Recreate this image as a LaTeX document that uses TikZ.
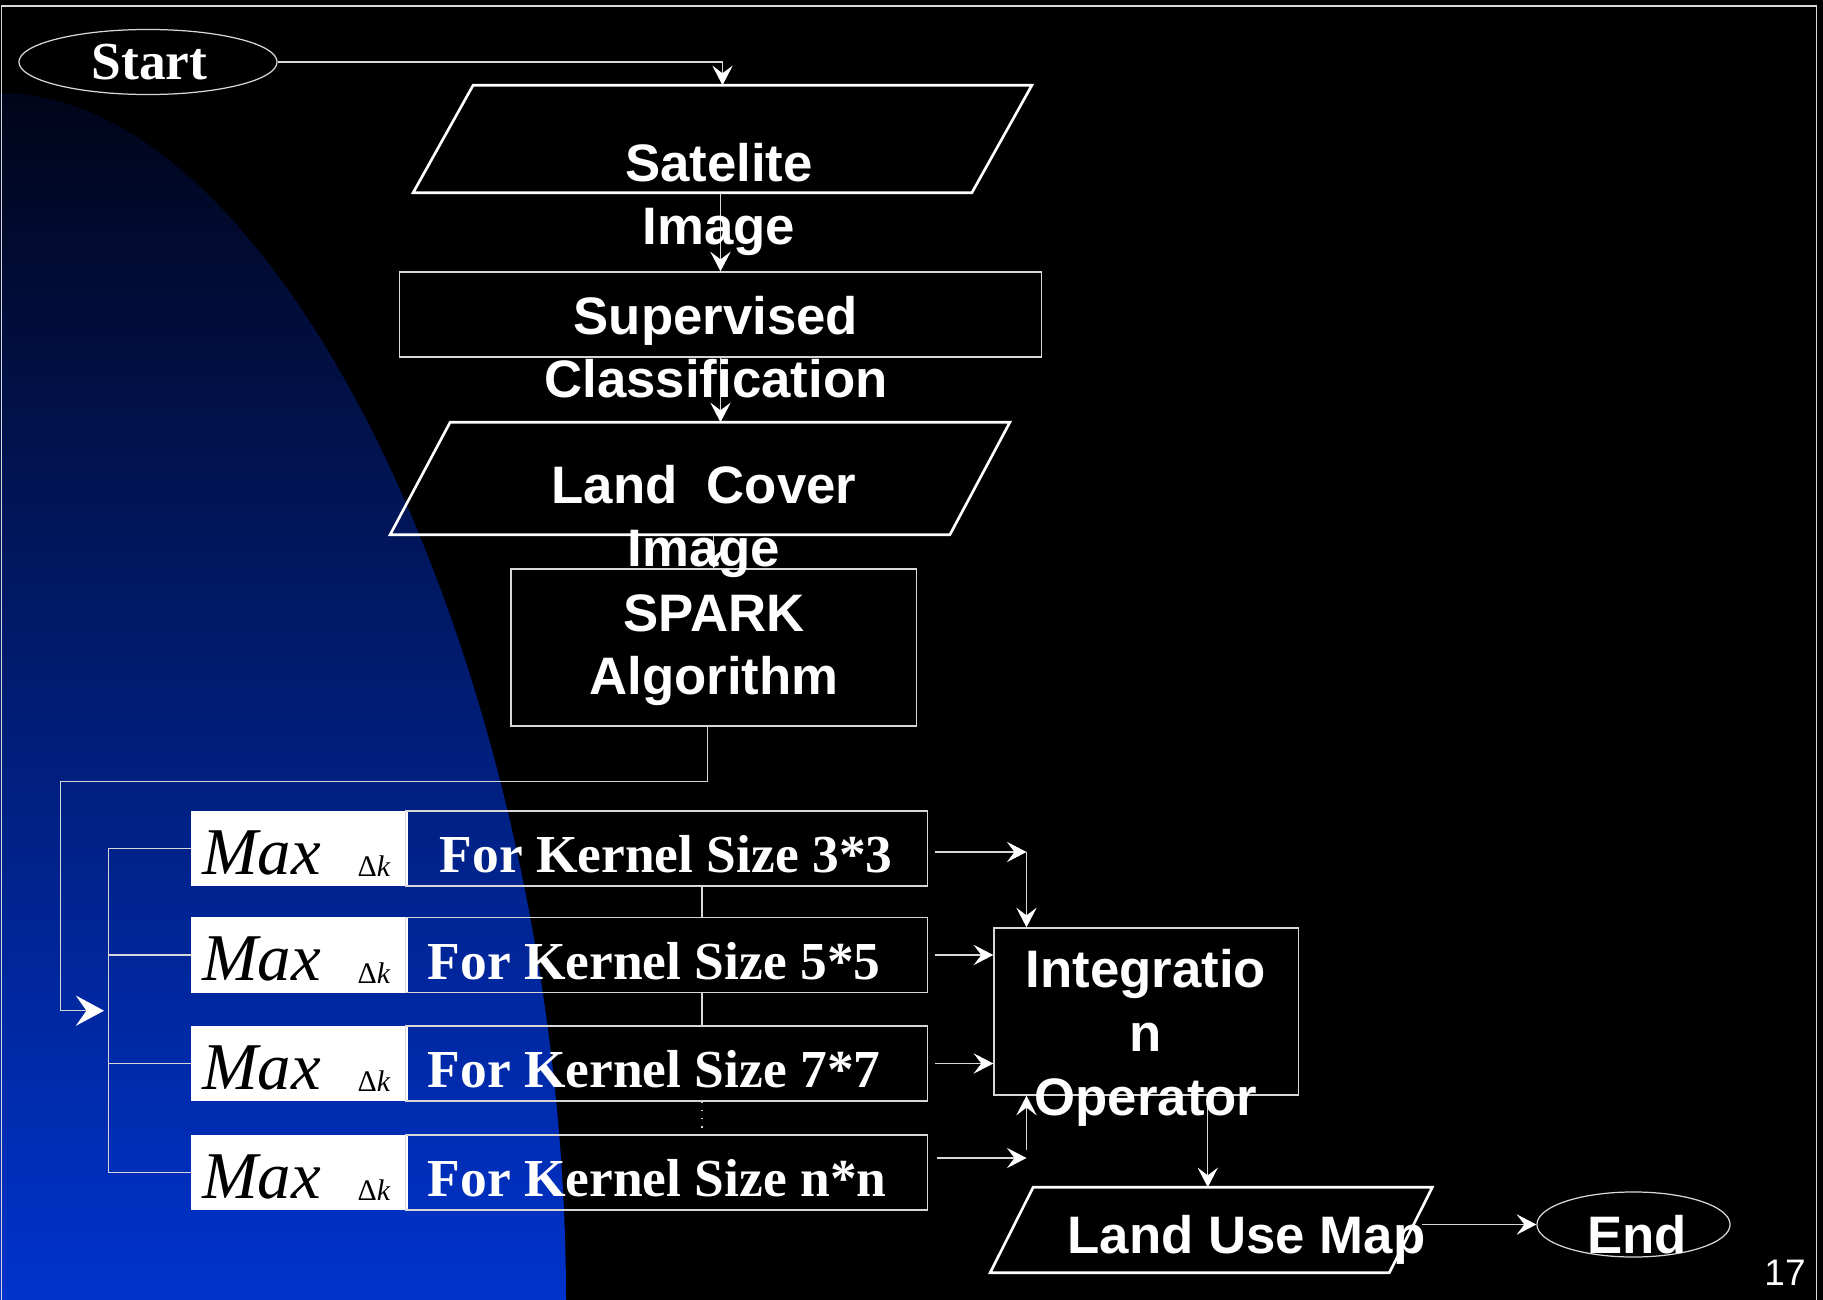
\documentclass[tikz,border=0pt]{standalone}
\usepackage{fontspec}
\setmainfont{Liberation Serif}
\setsansfont{Liberation Sans}
\usetikzlibrary{arrows.meta, calc, shapes.geometric}

\definecolor{navytop}{RGB}{1,5,26}
\definecolor{navymid}{RGB}{0,34,142}
\definecolor{navybot}{RGB}{0,51,204}
\definecolor{edgegray}{RGB}{215,215,215}

\begin{document}
\begin{tikzpicture}[x=0.01cm, y=-0.01cm,
        line/.style={draw=edgegray, line width=0.35pt},
        conn/.style={line, -{Stealth[length=5.6pt, width=5.8pt, inset=2.2pt, color=white]}},
        bigconn/.style={line, -{Stealth[length=8pt, width=8.6pt, inset=3pt, color=white]}},
        box/.style={line, inner sep=0pt},
        hold/.style={inner sep=0pt},
        para/.style={draw=white, line width=0.75pt},
        oval/.style={line, ellipse, inner sep=0pt},
        lbl/.style={text=white, font=\sffamily\bfseries\fontsize{15}{18.1}\selectfont, align=center, inner sep=0pt, anchor=base},
        kern/.style={text=white, font=\bfseries\fontsize{15.2}{18}\selectfont, inner sep=0pt, anchor=base west},
        maxbox/.style={fill=white, inner sep=0pt, minimum width=2.16cm, minimum height=0.75cm},
        kbox/.style={box, minimum width=5.21cm, minimum height=0.75cm}]
    % Background
    \useasboundingbox (0,0) rectangle (1823,1300);
    \fill[black] (0,0) rectangle (1823,1300);
    \shade[top color=navytop, middle color=navymid, bottom color=navybot]
        (0,93) .. controls (290,93) and (566,700) .. (566,1300) -- (0,1300) -- cycle;
    \draw[line] (1.5,1300) -- (1.5,6) -- (1816.5,6) -- (1816.5,1300);

    % Terminals
    \node[oval, minimum width=2.58cm, minimum height=0.65cm] (start) at (148,62) {};
    \node[text=white, font=\bfseries\fontsize{15.2}{18}\selectfont, inner sep=0pt, anchor=base] (starttxt) at (149.5,80) {Start};
    \node[oval, minimum width=1.93cm, minimum height=0.65cm] (finish) at (1633.5,1224.5) {};
    \node[lbl] (finishtxt) at (1637,1253) {End};

    % Inputs and outputs
    \node[hold, minimum width=6.17cm, minimum height=1.06cm] (sat) at (722.5,139) {};
    \draw[para] ($(sat.north west)+(60,0)$) -- (sat.north east) -- ($(sat.south east)-(60,0)$) -- (sat.south west) -- cycle;
    \node[hold, minimum width=6.18cm, minimum height=1.11cm] (cover) at (700,478.5) {};
    \draw[para] ($(cover.north west)+(60,0)$) -- (cover.north east) -- ($(cover.south east)-(60,0)$) -- (cover.south west) -- cycle;
    \node[hold, minimum width=4.405cm, minimum height=0.84cm] (landuse) at (1211.25,1230) {};
    \draw[para] ($(landuse.north west)+(43,0)$) -- (landuse.north east) -- ($(landuse.south east)-(43,0)$) -- (landuse.south west) -- cycle;

    % Processes
    \node[box, minimum width=6.41cm, minimum height=0.85cm] (superv) at (720.5,314.5) {};
    \node[box, minimum width=4.055cm, minimum height=1.57cm] (spark) at (713.75,647.5) {};
    \node[box, minimum width=3.045cm, minimum height=1.67cm] (integ) at (1146.25,1011.5) {};

    % Kernel rows
    \foreach \i/\y/\k/\kx in {1/848.5/3*3/439, 2/955/5*5/427, 3/1063.5/7*7/427, 4/1172.5/n*n/427} {
        \node[maxbox] (max\i) at (299.5,\y) {};
        \node[kbox] (ker\i) at (666.5,\y) {};
        \node[inner sep=0pt, anchor=base west, font=\itshape\fontsize{19}{19}\selectfont] (maxtxt\i) at (201.5,\y+25.8) {Max};
        \node[inner sep=0pt, anchor=base west, font=\fontsize{8.5}{9}\selectfont] (dk\i) at (357,\y+28.2) {Δ\textit{k}};
        \node[kern] (kertxt\i) at (\kx,\y+24.2) {For Kernel Size \k};
    }

    % Arrows
    \draw[conn] (start.east) -- (start.east -| sat.north) -- (sat.north);
    \draw[conn] (sat.south -| superv.north) -- (superv.north);
    \draw[conn] (superv.south) -- (superv.south |- cover.north);
    \draw[conn] (cover.south -| spark.north) -- (spark.north);
    \coordinate (busin) at (104,1010.7);
    \draw[bigconn] ([xshift=-0.06cm]spark.south) -- ++(0,55) -| (60.6,1010.7) -- (busin);
    \draw[line] (108.4,848.5) -- (108.4,1172.5);
    \foreach \i in {1,...,4}
        \draw[line] (108.4,0 |- max\i.west) -- (max\i.west);
    \draw[line] (ker1.south -| 702,0) -- (ker2.north -| 702,0);
    \draw[line] (ker2.south -| 702,0) -- (ker3.north -| 702,0);
    \draw[line, dotted] (ker3.south -| 702,0) -- (ker4.north -| 702,0);
    \coordinate (j1) at (1026.5,852);
    \coordinate (j4) at (1026.5,1158);
    \draw[conn] ([xshift=0.07cm]ker1.east |- j1) -- (j1);
    \draw[conn] (j1) -- (j1 |- integ.north);
    \draw[conn] ([xshift=0.07cm]ker2.east) -- (ker2.east -| integ.west);
    \draw[conn] ([xshift=0.07cm]ker3.east) -- (ker3.east -| integ.west);
    \draw[conn] ([xshift=0.09cm]ker4.east |- j4) -- (j4);
    \draw[conn] ([yshift=0.08cm]j4) -- (j4 |- integ.south);
    \draw[conn] ([xshift=0.615cm]integ.south) -- ([xshift=0.615cm]integ.south |- landuse.north);
    \draw[conn] ([xshift=-0.1cm]landuse.east |- finish.west) -- (finish.west);

    % Labels
    \node[lbl] (sattxt) at (719,245) {Satelite\\Image};
    \node[lbl] (supervtxt) at (716,398) {Supervised\\Classification};
    \node[lbl] (covertxt) at (704,566.7) {Land\ \ Cover\\Image};
    \node[lbl] (sparktxt) at (714,695) {SPARK\\Algorithm};
    \node[lbl] (integtxt) at (1146,1115) {Integratio\\n\\Operator};
    \node[lbl] (landusetxt) at (1246.5,1253) {Land Use Map};
    \node[text=white, font=\sffamily\fontsize{10.5}{12}\selectfont, inner sep=0pt, anchor=base] (pageno) at (1785,1285) {17};
\end{tikzpicture}
\end{document}
